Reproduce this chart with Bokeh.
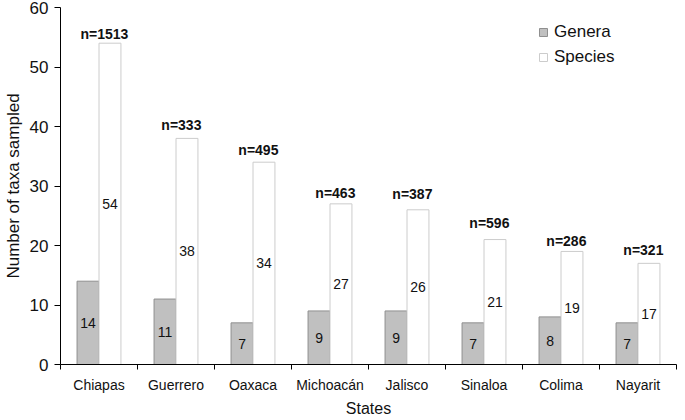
import numpy as np
from bokeh.plotting import figure
from bokeh.models import (ColumnDataSource, Range1d, LinearAxis, FixedTicker,
                          CustomJSTickFormatter, Legend, LegendItem)
from bokeh.core.properties import value
from bokeh.embed import file_html
from bokeh.resources import INLINE

# ---- data ----
states = ["Chiapas", "Guerrero", "Oaxaca", "Michoacán", "Jalisco", "Sinaloa", "Colima", "Nayarit"]
genera = [14, 11, 7, 9, 9, 7, 8, 7]
species = [54, 38, 34, 27, 26, 21, 19, 17]
n_samples = [1513, 333, 495, 463, 387, 596, 286, 321]
# height (in data units) at which each n= label sits
n_label_y = [55.6, 40.3, 36.1, 28.9, 28.7, 23.7, 20.8, 19.3]

FONT = "Liberation Sans"
BAR_W = 0.285

idx = np.arange(len(states)) + 0.5
src = ColumnDataSource(dict(
    xg=idx - BAR_W / 2, xs=idx + BAR_W / 2,
    genera=genera, species=species,
    gmid=[g / 2 for g in genera], smid=[s / 2 for s in species],
    gtxt=[str(g) for g in genera], stxt=[str(s) for s in species],
    xn=idx + 0.07, ny=n_label_y, ntxt=[f"n={n}" for n in n_samples],
))

p = figure(width=677, height=419, output_backend="svg", toolbar_location=None,
           x_range=Range1d(0, len(states)), y_range=Range1d(0, 60),
           x_axis_type=None, min_border_left=58, min_border_right=1,
           min_border_top=7, min_border_bottom=40)
p.outline_line_color = None
p.xgrid.visible = False
p.ygrid.visible = False
p.background_fill_color = "white"

rg = p.vbar(x="xg", top="genera", width=BAR_W, source=src,
            fill_color="#c0c0c0", line_color="#8f8f8f", line_width=1)
rs = p.vbar(x="xs", top="species", width=BAR_W, source=src,
            fill_color="white", line_color="#cccccc", line_width=1)

p.text(x="xg", y="gmid", text="gtxt", source=src, text_align="center",
       text_baseline="middle", text_font=value(FONT), text_font_size="14px",
       text_color="#111111")
p.text(x="xs", y="smid", text="stxt", source=src, text_align="center",
       text_baseline="middle", text_font=value(FONT), text_font_size="14px",
       text_color="#111111")
p.text(x="xn", y="ny", text="ntxt", source=src, text_align="center",
       text_baseline="middle", text_font=value(FONT), text_font_size="14px",
       text_font_style="bold", text_color="#111111")

# x axis: labels at category centres, tick marks at category boundaries
xaxis = LinearAxis(
    ticker=FixedTicker(ticks=list(idx), minor_ticks=list(range(len(states) + 1))),
    formatter=CustomJSTickFormatter(args=dict(names=states),
                                    code="return names[Math.round(tick - 0.5)];"),
    axis_label="States")
xaxis.major_tick_out = 0
xaxis.major_tick_in = 0
xaxis.minor_tick_out = 5
xaxis.minor_tick_in = 0
xaxis.minor_tick_line_color = "black"
xaxis.axis_line_color = "black"
xaxis.major_label_standoff = 7
xaxis.major_label_text_font = FONT
xaxis.major_label_text_font_size = "14px"
xaxis.major_label_text_color = "#111111"
xaxis.axis_label_text_font = FONT
xaxis.axis_label_text_font_size = "16px"
xaxis.axis_label_text_font_style = "normal"
xaxis.axis_label_text_color = "#111111"
xaxis.axis_label_standoff = 4
p.add_layout(xaxis, "below")

yaxis = p.yaxis[0]
yaxis.ticker = FixedTicker(ticks=[0, 10, 20, 30, 40, 50, 60])
yaxis.major_tick_out = 6
yaxis.major_tick_in = 0
yaxis.minor_tick_out = 0
yaxis.minor_tick_in = 0
yaxis.axis_line_color = "black"
yaxis.major_tick_line_color = "black"
yaxis.major_label_standoff = 6
yaxis.major_label_text_font = FONT
yaxis.major_label_text_font_size = "17px"
yaxis.major_label_text_color = "#111111"
yaxis.axis_label = "Number of taxa sampled"
yaxis.axis_label_text_font = FONT
yaxis.axis_label_text_font_size = "17px"
yaxis.axis_label_text_font_style = "normal"
yaxis.axis_label_text_color = "#111111"
yaxis.axis_label_standoff = 4

legend = Legend(items=[LegendItem(label="Genera", renderers=[rg]),
                       LegendItem(label="Species", renderers=[rs])],
                location=(478, 297), orientation="vertical")
legend.border_line_color = None
legend.background_fill_alpha = 0
legend.margin = 0
legend.padding = 0
legend.spacing = 5
legend.glyph_width = 10
legend.glyph_height = 10
legend.label_height = 20
legend.label_standoff = 6
legend.label_text_font = FONT
legend.label_text_font_size = "17px"
legend.label_text_color = "#111111"
p.add_layout(legend)

open("out.html", "w").write(file_html(p, INLINE))
